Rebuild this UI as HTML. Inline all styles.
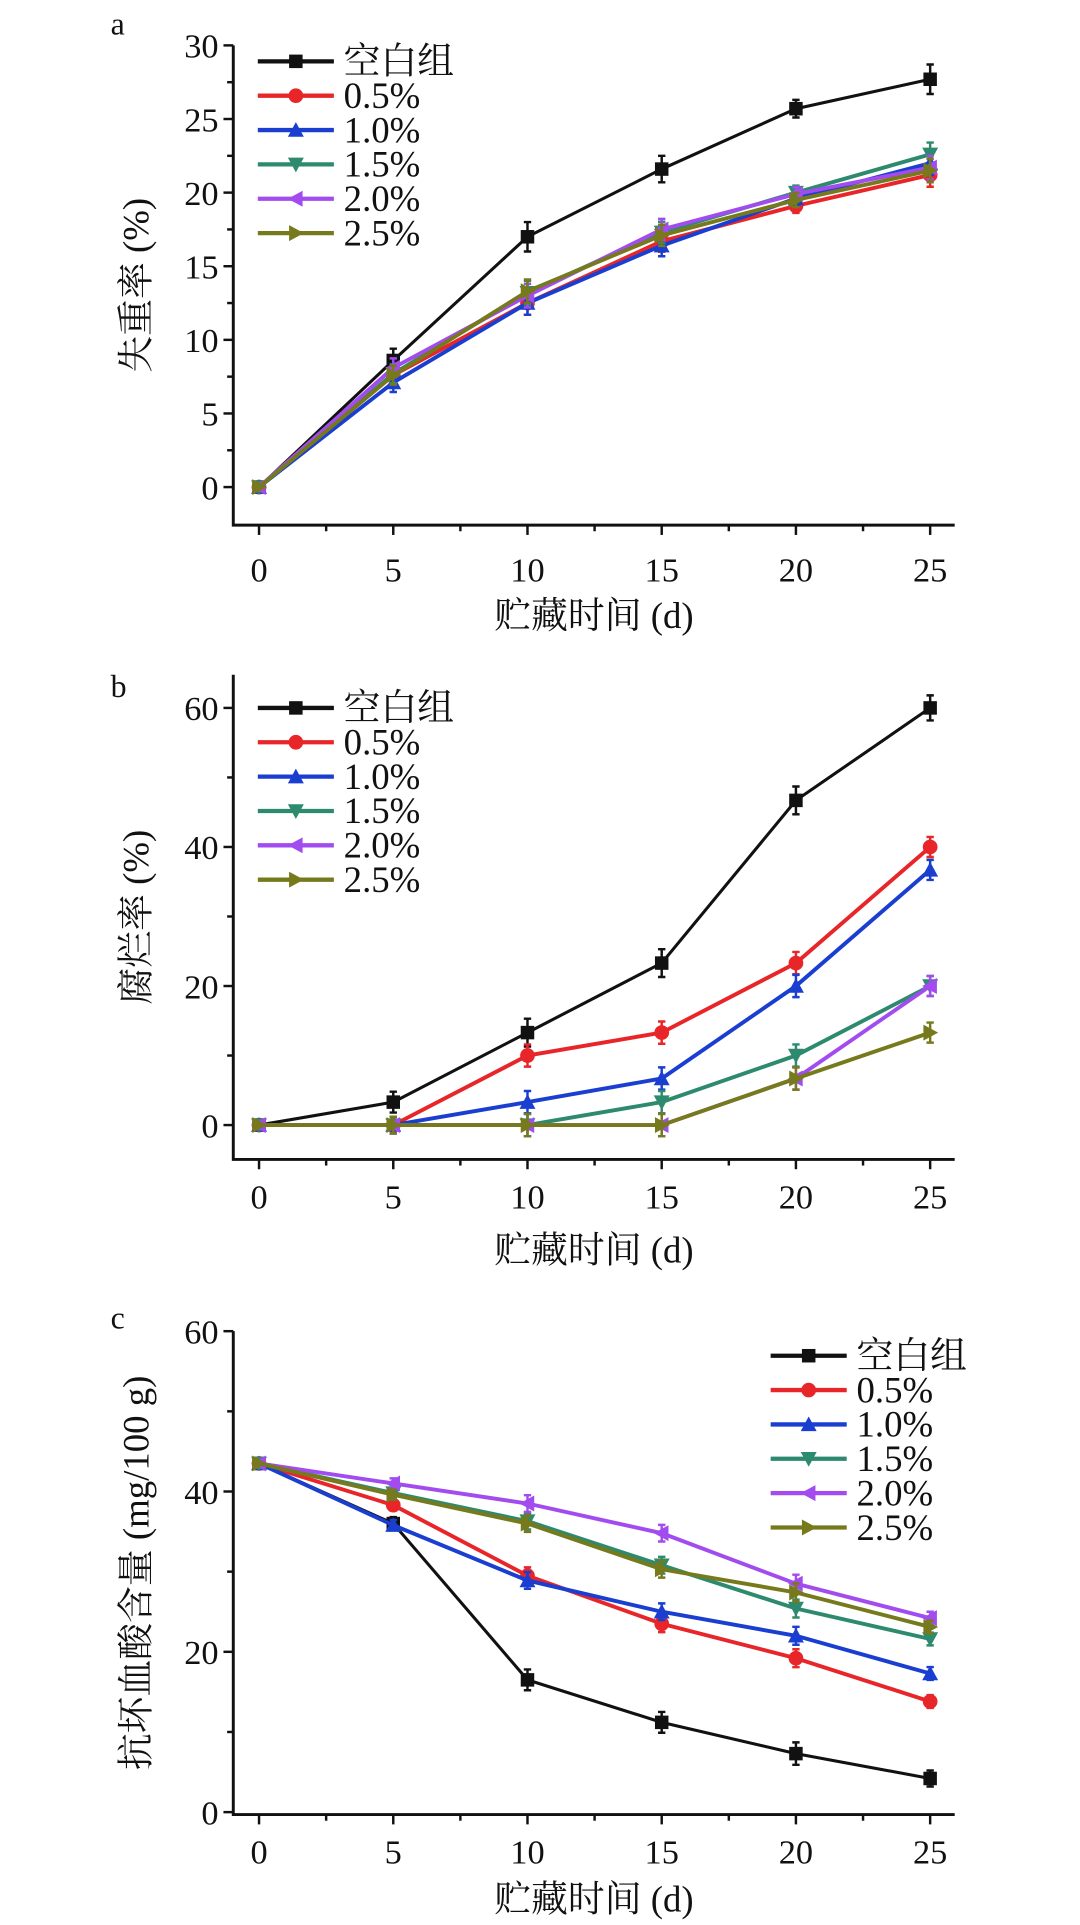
<!DOCTYPE html>
<html><head><meta charset="utf-8"><style>
html,body{margin:0;padding:0;background:#fff;}
svg{display:block;}
text{font-family:"Liberation Serif","Noto Serif CJK SC","Noto Sans CJK SC",serif;fill:#111;}
</style></head><body>
<svg id="fig" width="1080" height="1925" viewBox="0 0 880 1569" xmlns="http://www.w3.org/2000/svg"></svg>
<script>
const days = [0,5,10,15,20,25];
const seriesNames = ["空白组","0.5%","1.0%","1.5%","2.0%","2.5%"];
const seriesColors = ["#111111","#e8262a","#1a3fd0","#2e8a6e","#a24cf0","#767a1c"];
const seriesMarkers = ["square","circle","up","down","left","right"];
// panel a: weight loss
const aBlank = [0,8.6,17.0,21.6,25.7,27.7];
const a05 = [0,7.6,12.5,16.7,19.1,21.2];
const a10 = [0,7.1,12.5,16.4,19.6,22.0];
const a15 = [0,7.7,13.2,17.3,20.0,22.6];
const a20 = [0,8.1,13.0,17.5,19.9,21.7];
const a25 = [0,7.6,13.3,17.1,19.5,21.5];
const aErr = [0.2,0.8,1.0,0.9,0.6,1.0];
// panel b: decay rate
const bBlank = [0,3.3,13.3,23.3,46.7,60];
const b05 = [0,0,10,13.3,23.3,40];
const b10 = [0,0,3.3,6.7,20,36.7];
const b15 = [0,0,0,3.3,10,20];
const b20 = [0,0,0,0,6.7,20];
const b25 = [0,0,0,0,6.7,13.3];
const bErr = [0,1.5,2,2,2,1.8];
// panel c: ascorbic acid
const cBlank = [43.5,36.0,16.5,11.2,7.3,4.2];
const c05 = [43.5,38.3,29.5,23.5,19.2,13.8];
const c10 = [43.5,35.8,28.9,25.0,22.0,17.3];
const c15 = [43.5,39.8,36.3,30.8,25.4,21.6];
const c20 = [43.5,41.0,38.5,34.8,28.5,24.2];
const c25 = [43.5,39.6,36.0,30.3,27.4,23.1];
const cErr = [0.3,0.8,1.3,1.3,1.4,1.0];
const aTicks = [0,5,10,15,20,25,30];
const bTicks = [0,20,40,60];
const cTicks = [0,20,40,60];
const xTicks = [0,5,10,15,20,25];

const NS="http://www.w3.org/2000/svg";
const svg=document.getElementById('fig');
function el(tag,attrs,parent){const e=document.createElementNS(NS,tag);for(const k in attrs)e.setAttribute(k,attrs[k]);(parent||svg).appendChild(e);return e;}
function marker(g,type,x,y,c,s){
  let e;
  if(type==="square")e=el('rect',{x:x-s,y:y-s,width:2*s,height:2*s,fill:c},g);
  else if(type==="circle")e=el('circle',{cx:x,cy:y,r:s+0.5,fill:c},g);
  else{let p;
    if(type==="up")p=[[x,y-s-1],[x-s-1,y+s],[x+s+1,y+s]];
    if(type==="down")p=[[x,y+s+1],[x-s-1,y-s],[x+s+1,y-s]];
    if(type==="left")p=[[x-s-1,y],[x+s,y-s-1],[x+s,y+s+1]];
    if(type==="right")p=[[x+s+1,y],[x-s,y-s-1],[x-s,y+s+1]];
    e=el('polygon',{points:p.map(q=>q.join(',')).join(' '),fill:c},g);}
  
  
}
function panel(o){
  const g=el('g',{});
  
  
  const xs=v=>o.x0+(v-0)*(o.x1-o.x0)/25;
  const ys=v=>o.y0+(v-o.vmin)*(o.y1-o.y0)/(o.vmax-o.vmin);
  const ax=el('path',{d:`M${o.axL},${o.axTop}V${o.axBot}H${o.axR}`,stroke:'#111','stroke-width':2.4,fill:'none'},g);
  
  o.yTicks.forEach((t,i)=>{
    const y=ys(t);
    el('line',{x1:o.axL-8,x2:o.axL,y1:y,y2:y,stroke:'#111','stroke-width':2},g);
    const tx=el('text',{x:o.axL-12,y:y+10,'font-size':28,'text-anchor':'end'},g);tx.textContent=t;
    
    if(i<o.yTicks.length-1){const ym=ys((t+o.yTicks[i+1])/2);el('line',{x1:o.axL-5,x2:o.axL,y1:ym,y2:ym,stroke:'#111','stroke-width':2},g);}
  });
  xTicks.forEach((t,i)=>{
    const x=xs(t);
    el('line',{x1:x,x2:x,y1:o.axBot,y2:o.axBot+8,stroke:'#111','stroke-width':2},g);
    const tx=el('text',{x:x,y:o.axBot+o.xlOff,'font-size':28,'text-anchor':'middle'},g);tx.textContent=t;
    
    if(i<xTicks.length-1){const xm=xs(t+2.5);el('line',{x1:xm,x2:xm,y1:o.axBot,y2:o.axBot+5,stroke:'#111','stroke-width':2},g);}
  });
  const xt=el('text',{x:(o.axL+o.axR)/2,y:o.axBot+o.xtOff,'font-size':30,'text-anchor':'middle'},g);xt.textContent='贮藏时间 (d)';
  
  const yc=(o.axTop+o.axBot)/2;
  const yt=el('text',{x:0,y:0,'font-size':30,'text-anchor':'middle',transform:`translate(121,${yc}) rotate(-90)`},g);yt.textContent=o.ytitle;
  
  const pl=el('text',{x:90,y:o.labY,'font-size':26},g);pl.textContent=o.label;
  
  o.data.forEach((d,si)=>{
    const sg=el('g',{},g);
    
    
    const c=seriesColors[si];
    const ln=el('polyline',{points:d.map((v,i)=>xs(days[i])+','+ys(v)).join(' '),fill:'none',stroke:c,'stroke-width':si===0?2.5:3.2},sg);
    
    d.forEach((v,i)=>{
      const e=o.err[i]*(si===0?1:0.8);
      if(e>0.3){const x=xs(days[i]);
        el('path',{d:`M${x},${ys(v+e)}V${ys(v-e)}M${x-3},${ys(v+e)}h6M${x-3},${ys(v-e)}h6`,stroke:c,'stroke-width':2,fill:'none'},sg);}
      marker(sg,seriesMarkers[i>=0?si:si],xs(days[i]),ys(v),c,5.5);
    });
  });
  seriesNames.forEach((n,i)=>{
    const lg=el('g',{},g);
    
    
    const y=o.legY+i*28;
    el('line',{x1:o.legX,x2:o.legX+62,y1:y,y2:y,stroke:seriesColors[i],'stroke-width':3.5},lg);
    marker(lg,seriesMarkers[i],o.legX+31,y,seriesColors[i],5.5);
    const t=el('text',{x:o.legX+70,y:y+10,'font-size':30},lg);t.textContent=n;
  });
}
panel({label:'a',labY:28,x0:211,x1:758,axL:190,axR:778,axTop:37,axBot:428,y0:397,y1:37,vmin:0,vmax:30,yTicks:aTicks,xlOff:46,xtOff:84,
  ytitle:'失重率 (%)',data:[aBlank,a05,a10,a15,a20,a25],err:aErr,legX:210,legY:50});
panel({label:'b',labY:568,x0:211,x1:758,axL:190,axR:778,axTop:550,axBot:945,y0:917,y1:577,vmin:0,vmax:60,yTicks:bTicks,xlOff:40,xtOff:84,
  ytitle:'腐烂率 (%)',data:[bBlank,b05,b10,b15,b20,b25],err:bErr,legX:210,legY:577});
panel({label:'c',labY:1083,x0:211,x1:758,axL:190,axR:778,axTop:1085,axBot:1479,y0:1477,y1:1085,vmin:0,vmax:60,yTicks:cTicks,xlOff:40,xtOff:79,
  ytitle:'抗坏血酸含量 (mg/100 g)',data:[cBlank,c05,c10,c15,c20,c25],err:cErr,legX:628,legY:1105});
</script>
</body></html>
